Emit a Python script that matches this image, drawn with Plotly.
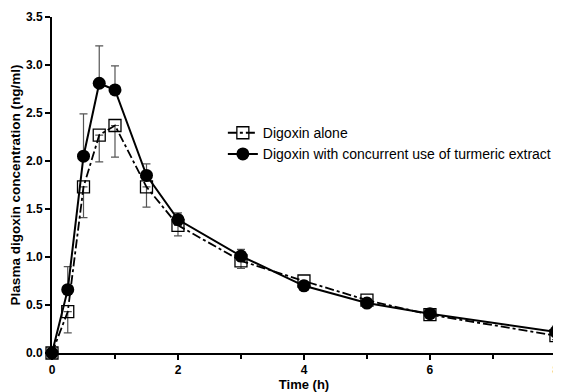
import plotly.graph_objects as go

time_h = [0, 0.25, 0.5, 0.75, 1, 1.5, 2, 3, 4, 5, 6, 8]
alone = [0, 0.43, 1.73, 2.27, 2.37, 1.73, 1.33, 0.96, 0.75, 0.55, 0.40, 0.18]
alone_err = [0, 0.22, 0.32, 0.28, 0.33, 0.21, 0.11, 0.08, 0.03, 0.03, 0.03, 0.04]
turmeric = [0, 0.66, 2.05, 2.81, 2.74, 1.85, 1.39, 1.01, 0.70, 0.52, 0.41, 0.22]
turmeric_err = [0, 0.24, 0.44, 0.39, 0.25, 0.12, 0.07, 0.07, 0.02, 0.02, 0.02, 0.06]

x_ticks = [0, 2, 4, 6, 8]
y_ticks = [0, 0.5, 1.0, 1.5, 2.0, 2.5, 3.0, 3.5]

fig = go.Figure()
fig.add_trace(go.Scatter(
    x=time_h, y=alone, name="Digoxin alone", mode="lines+markers",
    line=dict(color="black", width=1.8, dash="dashdot"),
    marker=dict(symbol="square-open", size=12, color="black", line=dict(width=1.3)),
    error_y=dict(type="data", symmetric=False, array=[0]*len(alone_err), arrayminus=alone_err,
                 color="#555555", thickness=1.2, width=4),
    cliponaxis=False,
))
fig.add_trace(go.Scatter(
    x=time_h, y=turmeric, name="Digoxin with concurrent use of turmeric extract", mode="lines+markers",
    line=dict(color="black", width=2),
    marker=dict(symbol="circle", size=13, color="black"),
    error_y=dict(type="data", symmetric=False, array=turmeric_err, arrayminus=[0]*len(turmeric_err),
                 color="#555555", thickness=1.2, width=4),
    cliponaxis=False,
))

# page has an 8px body margin, so the figure is sized 553x384 to fill the 561x392 window
fig.update_layout(
    width=553, height=384,
    margin=dict(l=44, r=5, t=9, b=39, autoexpand=False),
    paper_bgcolor="white", plot_bgcolor="white",
    font=dict(family="Liberation Sans, Arial, sans-serif", color="black", size=12),
    showlegend=True,
    legend=dict(x=0.339, y=0.702, xanchor="left", yanchor="top", bgcolor="rgba(0,0,0,0)",
                font=dict(size=14), tracegroupgap=0, itemwidth=30),
    xaxis=dict(
        range=[0, 8.001], tickvals=x_ticks, ticktext=[str(v) for v in x_ticks], automargin=False,
        ticklabeloverflow="allow",
        showline=True, linecolor="black", linewidth=2, ticks="outside", ticklen=5, tickwidth=2,
        tickcolor="black", showgrid=False, zeroline=False,
        tickfont=dict(size=12, weight="bold"),
        minor=dict(ticks="outside", dtick=1, ticklen=4, tickwidth=1.5, tickcolor="black", showgrid=False),
        title=dict(text="Time (h)", font=dict(size=13, weight="bold"), standoff=2),
    ),
    yaxis=dict(
        range=[0, 3.5], tickvals=y_ticks, ticktext=[f"{v:.1f}" for v in y_ticks], automargin=False,
        showline=True, linecolor="black", linewidth=2, ticks="outside", ticklen=5, tickwidth=2,
        tickcolor="black", showgrid=False, zeroline=False,
        tickfont=dict(size=12, weight="bold"),
        title=dict(text="Plasma digoxin concentration (ng/ml)", font=dict(size=13.5, weight="bold"), standoff=4),
    ),
)

fig.write_html("out.html")
